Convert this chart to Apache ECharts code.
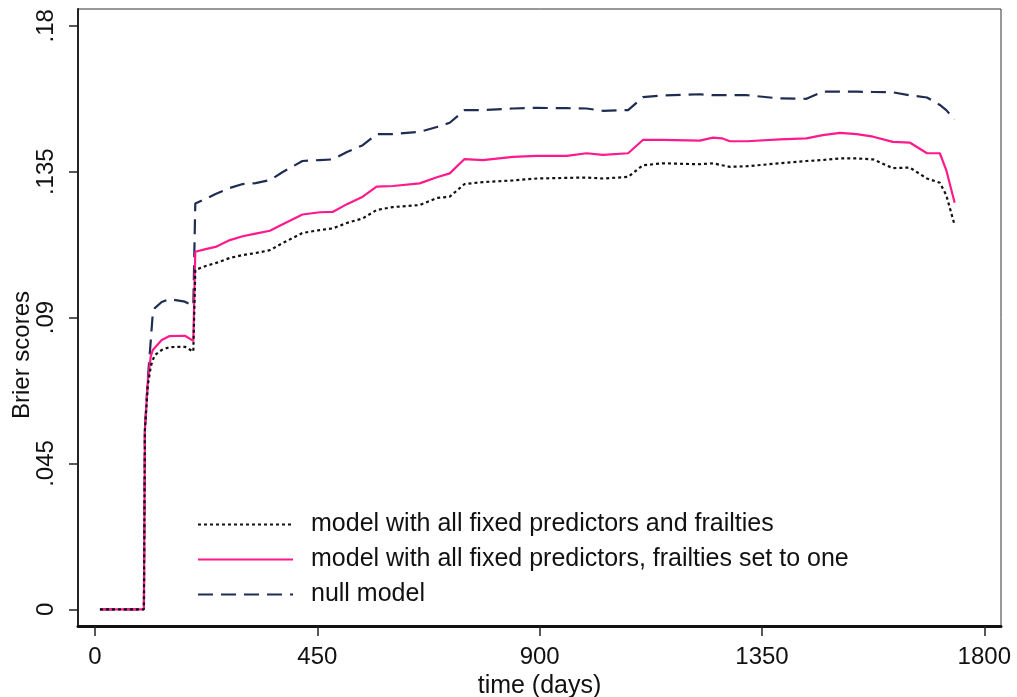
<!DOCTYPE html>
<html>
<head>
<meta charset="utf-8">
<title>Brier scores over time</title>
<script src="https://cdn.jsdelivr.net/npm/echarts@6/dist/echarts.min.js"></script>
<style>
  html, body { margin: 0; padding: 0; background: #ffffff; overflow: hidden; }
  #chart { width: 1017px; height: 697px; }
</style>
</head>
<body>
<div id="chart"></div>
<script>
// Follow-up time (days) at which the Brier scores were evaluated
const days = [10, 99, 101, 107, 113, 117, 121, 135, 151, 182, 199, 203, 224, 244, 273, 299, 325, 354, 380, 420,
  455, 481, 510, 542, 570, 603, 657, 692, 718, 748, 785, 846, 894, 955, 995, 1028, 1079, 1109, 1149, 1224,
  1251, 1269, 1285, 1320, 1386, 1440, 1473, 1508, 1542, 1575, 1615, 1649, 1684, 1710, 1723, 1740];

// Model with all fixed predictors and frailties
const fullModel = [0, 0, .0553, .0692, .0750, .0769, .0784, .0800, .0809, .0810, .0795, .1047, .1059, .1068, .1084, .1093, .1099, .1108, .1130, .1161,
  .1170, .1175, .1192, .1206, .1232, .1241, .1247, .1269, .1273, .1312, .1318, .1323, .1329, .1331, .1332, .1329, .1334, .1370, .1376, .1373,
  .1376, .1370, .1365, .1367, .1376, .1383, .1386, .1391, .1391, .1388, .1361, .1363, .1329, .1316, .1278, .1185];

// Model with all fixed predictors, frailties set to one
const frailtyOne = [0, 0, .0553, .0707, .0781, .0800, .0806, .0831, .0843, .0844, .0828, .1103, .1111, .1118, .1139, .1151, .1159, .1168, .1188, .1218,
  .1225, .1226, .1250, .1273, .1304, .1306, .1314, .1333, .1345, .1389, .1386, .1396, .1399, .1399, .1407, .1402, .1407, .1448, .1448, .1446,
  .1455, .1453, .1444, .1444, .1450, .1453, .1463, .1470, .1466, .1458, .1442, .1440, .1407, .1407, .1355, .1254];

// Null model
const nullModel = [0, 0, .0553, .0713, .0831, .0914, .0929, .0948, .0957, .0949, .0936, .1252, .1266, .1281, .1300, .1312, .1315, .1324, .1349, .1383,
  .1386, .1388, .1411, .1432, .1466, .1466, .1473, .1488, .1501, .1540, .1540, .1545, .1547, .1546, .1545, .1538, .1540, .1580, .1585, .1589,
  .1586, .1586, .1586, .1586, .1576, .1575, .1597, .1597, .1597, .1596, .1595, .1586, .1579, .1556, .1540, .1511];

const seriesNames = [
  'model with all fixed predictors and frailties',
  'model with all fixed predictors, frailties set to one',
  'null model'
];

const xTicks = [0, 450, 900, 1350, 1800];
const yTicks = [0, 0.045, 0.09, 0.135, 0.18];
const yTickLabels = ['0', '.045', '.09', '.135', '.18'];

const FONT = 'Liberation Sans, Arial, sans-serif';
const toPairs = vals => days.map((d, i) => [d, vals[i]]);

const chart = echarts.init(document.getElementById('chart'), null, { renderer: 'canvas' });

chart.setOption({
  backgroundColor: '#ffffff',
  animation: false,
  grid: {
    left: 78, right: 16, top: 9, bottom: 71,
    outerBoundsMode: 'none',
    containLabel: false,
    show: true, borderColor: '#333333', borderWidth: 1, backgroundColor: '#ffffff'
  },
  legend: {
    orient: 'vertical',
    left: 192, top: 507,
    itemWidth: 95, itemHeight: 14, itemGap: 10,
    itemStyle: { color: 'rgba(0,0,0,0)', borderWidth: 0, opacity: 0 },
    textStyle: { fontFamily: FONT, fontSize: 25, color: '#111111', lineHeight: 25, padding: [0, 0, 0, 13] },
    data: seriesNames
  },
  xAxis: {
    type: 'value',
    min: -34.4, max: 1833.8,
    name: 'time (days)',
    nameLocation: 'middle',
    nameGap: 46,
    nameTextStyle: { fontFamily: FONT, fontSize: 25, color: '#111111' },
    splitLine: { show: false },
    axisLine: { show: true, onZero: false, lineStyle: { color: '#111111', width: 3 } },
    axisTick: { show: true, customValues: xTicks, length: 10, lineStyle: { color: '#222222', width: 1.5 } },
    axisLabel: {
      customValues: xTicks, margin: 19,
      fontFamily: FONT, fontSize: 24, color: '#111111',
      formatter: v => String(v)
    }
  },
  yAxis: {
    type: 'value',
    min: -0.00515, max: 0.1852,
    splitLine: { show: false },
    axisLine: { show: true, onZero: false, lineStyle: { color: '#222222', width: 2 } },
    axisTick: { show: true, customValues: yTicks, length: 9, lineStyle: { color: '#222222', width: 1.5 } },
    axisLabel: {
      customValues: yTicks, margin: 20, rotate: 90,
      fontFamily: FONT, fontSize: 24, color: '#111111',
      formatter: v => {
        const i = yTicks.findIndex(t => Math.abs(t - v) < 1e-6);
        return i >= 0 ? yTickLabels[i] : '';
      }
    }
  },
  graphic: [{
    type: 'text',
    x: 22, y: 355,
    rotation: Math.PI / 2,
    style: {
      text: 'Brier scores',
      fontFamily: FONT, fontSize: 24, fill: '#111111',
      align: 'center', verticalAlign: 'middle'
    }
  }],
  series: [
    {
      name: seriesNames[0], type: 'line', data: toPairs(fullModel),
      symbol: 'none', showSymbol: false, z: 3,
      lineStyle: { color: '#111111', width: 2.2, type: [3, 3] },
      itemStyle: { color: '#111111' }
    },
    {
      name: seriesNames[1], type: 'line', data: toPairs(frailtyOne),
      symbol: 'none', showSymbol: false, z: 2,
      lineStyle: { color: '#ff1a8c', width: 2.2, type: 'solid' },
      itemStyle: { color: '#ff1a8c' }
    },
    {
      name: seriesNames[2], type: 'line', data: toPairs(nullModel),
      symbol: 'none', showSymbol: false, z: 1,
      lineStyle: { color: '#1f2d52', width: 2.2, type: [15, 8] },
      itemStyle: { color: '#1f2d52' }
    }
  ]
});
</script>
</body>
</html>
